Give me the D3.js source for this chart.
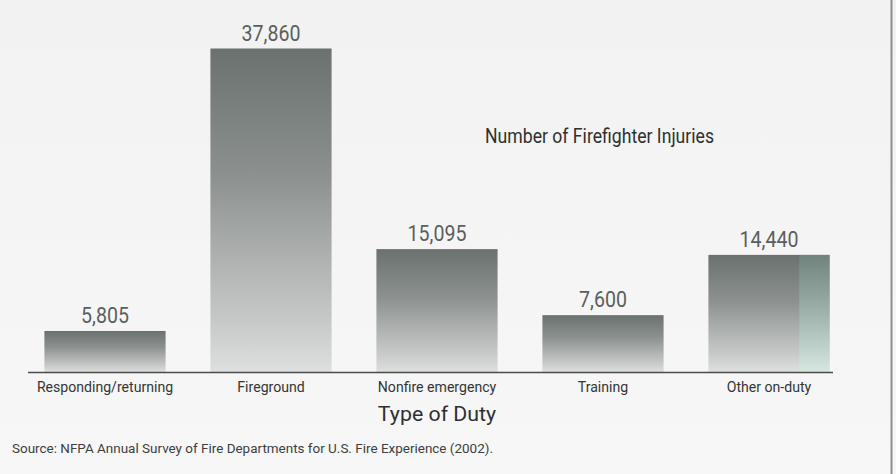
<!DOCTYPE html>
<html lang="en">
<head>
<meta charset="UTF-8">
<title>Firefighter injuries by type of duty</title>
<style>
  body { margin: 0; background: #f4f4f3; }
  svg { display: block; }
  text { font-family: Roboto, "Liberation Sans", sans-serif; }
  .value { font-size: 22px; fill: #5c5e5d; text-anchor: middle; }
  .cat { font-size: 15.5px; fill: #343535; text-anchor: middle; }
  .xtitle { font-size: 20.5px; fill: #2f3030; text-anchor: middle; }
  .legend { font-size: 20.5px; fill: #2f3030; }
  .source { font-size: 13.2px; fill: #3d3e3e; }
</style>
</head>
<body>
<div class="content"></div>
<script src="https://cdn.jsdelivr.net/npm/d3@7"></script>
<script>
var categories = ["Responding/returning", "Fireground", "Nonfire emergency", "Training", "Other on-duty"];
var injuries = [5805, 37860, 15095, 7600, 14440];

var width = 896, height = 474;
var baseY = 372;

var svg = d3.select(".content").append("svg")
  .attr("width", width)
  .attr("height", height);

var defs = svg.append("defs");
var bg = defs.append("linearGradient")
  .attr("id", "paper").attr("x1", "0%").attr("y1", "0%").attr("x2", "0%").attr("y2", "100%");
bg.append("stop").attr("offset", "0%").style("stop-color", "#f1f2f1");
bg.append("stop").attr("offset", "100%").style("stop-color", "#f7f7f7");

var barGrad = defs.append("linearGradient")
  .attr("id", "barGrad").attr("x1", "0%").attr("y1", "0%").attr("x2", "0%").attr("y2", "100%");
barGrad.append("stop").attr("offset", "0%").style("stop-color", "#6a716e");
barGrad.append("stop").attr("offset", "40%").style("stop-color", "#8d9290");
barGrad.append("stop").attr("offset", "85%").style("stop-color", "#c8caca");
barGrad.append("stop").attr("offset", "100%").style("stop-color", "#dedfdf");

var tealGrad = defs.append("linearGradient")
  .attr("id", "tealGrad").attr("x1", "0%").attr("y1", "0%").attr("x2", "0%").attr("y2", "100%");
tealGrad.append("stop").attr("offset", "0%").style("stop-color", "#728b82");
tealGrad.append("stop").attr("offset", "100%").style("stop-color", "#d3ebe3");

svg.append("rect").attr("width", width).attr("height", height).attr("fill", "url(#paper)");

var x = d3.scaleBand()
  .domain(categories)
  .range([22, 852])
  .paddingInner(0.27)
  .paddingOuter(0.135);

// the printed bars do not start from zero
var y = d3.scaleLinear()
  .domain([1150, 37860])
  .range([baseY, 48.5]);

// condensed type: squeeze text horizontally around its anchor
function label(parent, cls, tx, ty, sx, str) {
  return parent.append("g")
    .attr("transform", "translate(" + tx + "," + ty + ") scale(" + sx + ",1)")
    .append("text")
    .attr("class", cls)
    .text(str);
}

var rows = categories.map(function (c, i) { return { cat: c, value: injuries[i] }; });

var bars = svg.selectAll(".bar")
  .data(rows)
  .enter().append("g")
  .attr("class", "bar");

bars.append("rect")
  .attr("x", function (d) { return x(d.cat); })
  .attr("y", function (d) { return y(d.value); })
  .attr("width", x.bandwidth())
  .attr("height", function (d) { return baseY - y(d.value); })
  .attr("fill", "url(#barGrad)");

// greenish strip on the right of the last bar
bars.filter(function (d) { return d.cat === "Other on-duty"; })
  .append("rect")
  .attr("x", function (d) { return x(d.cat) + x.bandwidth() * 0.75; })
  .attr("y", function (d) { return y(d.value); })
  .attr("width", x.bandwidth() * 0.25)
  .attr("height", function (d) { return baseY - y(d.value); })
  .attr("fill", "url(#tealGrad)")
  .attr("opacity", 0.7);

bars.each(function (d) {
  label(d3.select(this), "value", x(d.cat) + x.bandwidth() / 2, y(d.value) - 8, 0.89,
    d3.format(",")(d.value));
});

svg.append("line")
  .attr("x1", 28).attr("x2", 833)
  .attr("y1", baseY + 0.5).attr("y2", baseY + 0.5)
  .attr("stroke", "#4a4c4b").attr("stroke-width", 1.6);

categories.forEach(function (c) {
  label(svg, "cat", x(c) + x.bandwidth() / 2, 392.3, 0.91, c);
});

label(svg, "xtitle", x("Nonfire emergency") + x.bandwidth() / 2, 420.5, 1.04, "Type of Duty");
label(svg, "legend", 485, 143.3, 0.86, "Number of Firefighter Injuries");
label(svg, "source", 12, 452.5, 1.02, "Source: NFPA Annual Survey of Fire Departments for U.S. Fire Experience (2002).");

// right frame edge
svg.append("line")
  .attr("x1", 891.5).attr("x2", 891.5)
  .attr("y1", 0).attr("y2", height)
  .attr("stroke", "#8d8f8e").attr("stroke-width", 2);
</script>
</body>
</html>
